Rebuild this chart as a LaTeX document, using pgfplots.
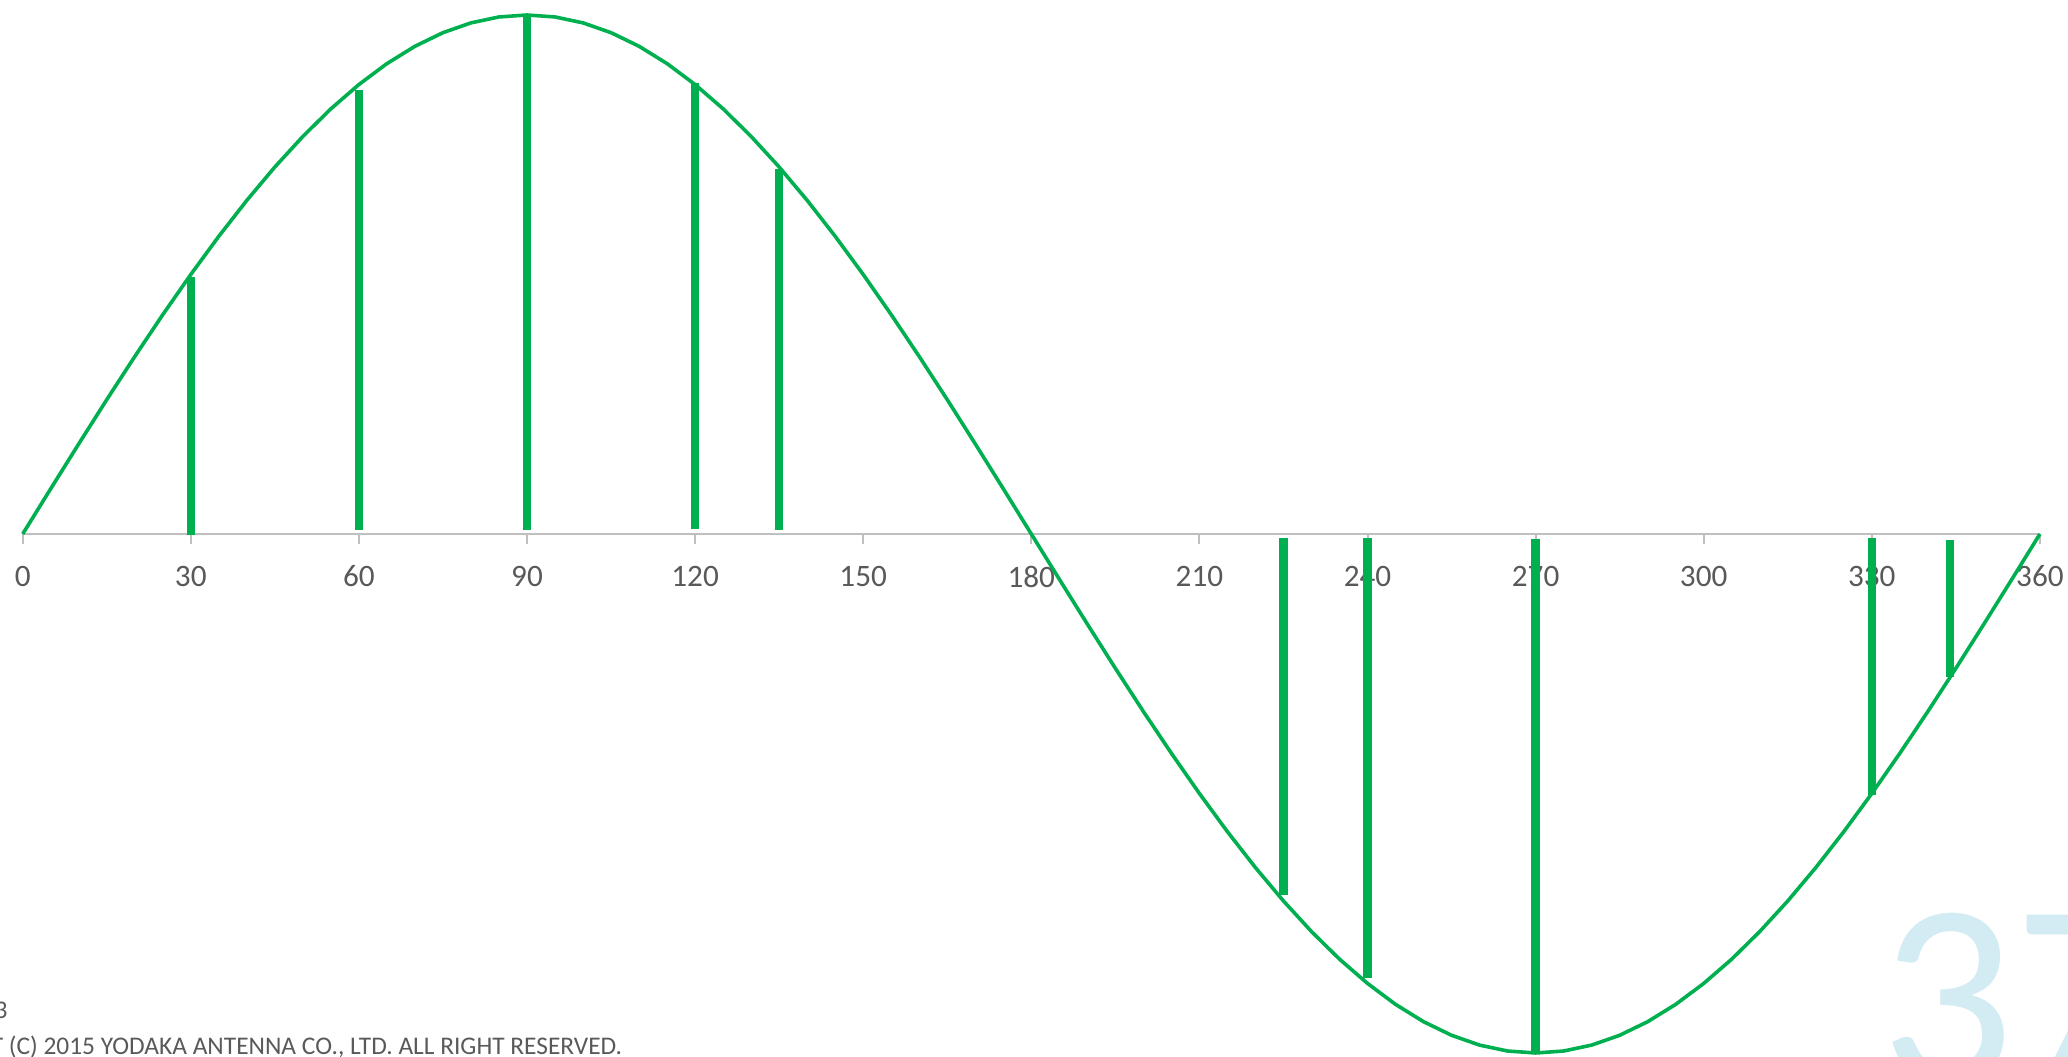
\documentclass[border=0pt]{standalone}
\usepackage{fontspec}
\setmainfont{Carlito}
\usepackage{pgfplots}
\usepackage{pgfplotstable}
\pgfplotsset{compat=1.18}
\definecolor{cgreen}{HTML}{00B050}
\definecolor{caxis}{HTML}{BFBFBF}
\definecolor{ctext}{HTML}{595959}
\definecolor{cbig}{HTML}{D3EBF2}
\pgfplotstableread{
x y
0 0
5 0.0872
10 0.1736
15 0.2588
20 0.3420
25 0.4226
30 0.5
35 0.5736
40 0.6428
45 0.7071
50 0.7660
55 0.8192
60 0.8660
65 0.9063
70 0.9397
75 0.9659
80 0.9848
85 0.9962
90 1
95 0.9962
100 0.9848
105 0.9659
110 0.9397
115 0.9063
120 0.8660
125 0.8192
130 0.7660
135 0.7071
140 0.6428
145 0.5736
150 0.5
155 0.4226
160 0.3420
165 0.2588
170 0.1736
175 0.0872
180 0
185 -0.0872
190 -0.1736
195 -0.2588
200 -0.3420
205 -0.4226
210 -0.5
215 -0.5736
220 -0.6428
225 -0.7071
230 -0.7660
235 -0.8192
240 -0.8660
245 -0.9063
250 -0.9397
255 -0.9659
260 -0.9848
265 -0.9962
270 -1
275 -0.9962
280 -0.9848
285 -0.9659
290 -0.9397
295 -0.9063
300 -0.8660
305 -0.8192
310 -0.7660
315 -0.7071
320 -0.6428
325 -0.5736
330 -0.5
335 -0.4226
340 -0.3420
345 -0.2588
350 -0.1736
355 -0.0872
360 0
}\curvetable
\begin{document}
\begin{tikzpicture}
\path[use as bounding box] (0pt,0pt) rectangle (517pt,264.25pt);
\begin{axis}[
  at={(5.675pt,1pt)}, anchor=south west,
  scale only axis, width=504.3pt, height=259.5pt,
  xmin=0, xmax=360, ymin=-1, ymax=1,
  axis x line=middle, axis y line=none,
  hide obscured x ticks=false,
  x axis line style={draw=caxis, line width=0.5pt, -},
  xtick={0,30,...,360}, ytick=\empty,
  tick align=outside, major tick length=2.5pt,
  tick style={draw=caxis, line width=0.5pt},
  /pgf/number format/assume math mode=true,
  xticklabel style={font=\fontsize{7.8}{9}\selectfont, text=ctext, anchor=north, inner sep=0pt, yshift=-5.25pt},
  clip=false,
]
\addplot[cgreen, line width=0.9pt, line join=round] table[x=x,y=y] {\curvetable};
\addplot[cgreen, line width=2.1pt] coordinates {(30,-0.002) (30,0.495)};
\addplot[cgreen, line width=2.1pt] coordinates {(60,0.008) (60,0.856)};
\addplot[cgreen, line width=2.1pt] coordinates {(90,0.007) (90,1.0)};
\addplot[cgreen, line width=2.1pt] coordinates {(120,0.009) (120,0.868)};
\addplot[cgreen, line width=2.1pt] coordinates {(135,0.008) (135,0.704)};
\addplot[cgreen, line width=2.1pt] coordinates {(225,-0.008) (225,-0.696)};
\addplot[cgreen, line width=2.1pt] coordinates {(240,-0.008) (240,-0.855)};
\addplot[cgreen, line width=2.1pt] coordinates {(270,-0.01) (270,-1.0)};
\addplot[cgreen, line width=2.1pt] coordinates {(330,-0.008) (330,-0.503)};
\addplot[cgreen, line width=2.1pt] coordinates {(344,-0.012) (344,-0.275)};
\end{axis}
\node[anchor=base west, inner sep=0pt, text=cbig, font=\fontsize{66}{70}\selectfont] at (470pt,-7pt) {37};
\node[anchor=base east, inner sep=0pt, text=ctext, font=\fontsize{6.35}{7.5}\selectfont] at (2.1pt,9.6pt) {3};
\node[anchor=base east, inner sep=0pt, text=ctext, font=\fontsize{6.35}{7.5}\selectfont] at (155.75pt,0.5pt) {COPYRIGHT (C) 2015 YODAKA ANTENNA CO., LTD. ALL RIGHT RESERVED.};
\end{tikzpicture}
\end{document}
